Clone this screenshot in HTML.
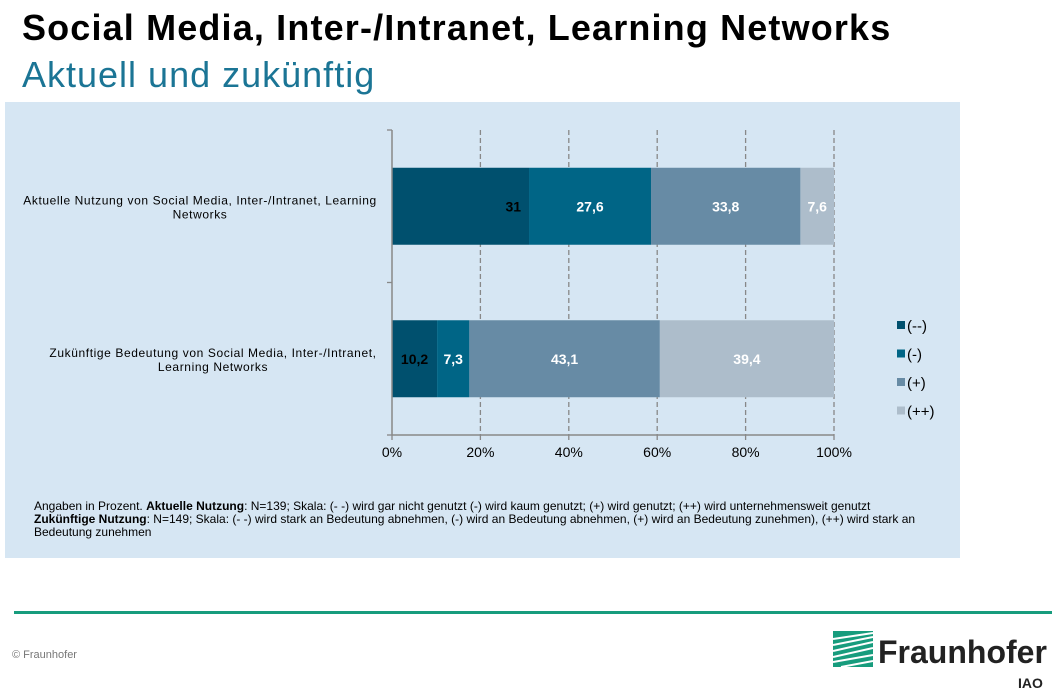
<!DOCTYPE html>
<html><head><meta charset="utf-8"><style>
body{margin:0;width:1061px;height:694px;background:#fff;font-family:"Liberation Sans","DejaVu Sans",sans-serif;position:relative;overflow:hidden}
.abs{position:absolute}
</style></head><body>
<div class="abs" style="left:22px;top:7px;font-size:36px;font-weight:bold;color:#000;letter-spacing:1.15px;white-space:nowrap">Social Media, Inter-/Intranet, Learning Networks</div>
<div class="abs" style="left:22px;top:54px;font-size:36px;color:#1b7595;letter-spacing:1px;white-space:nowrap">Aktuell und zukünftig</div>
<div class="abs" style="left:5px;top:102px;width:955px;height:456px;background:#d6e6f3"></div>
<svg class="abs" style="left:0;top:0" width="1061" height="694" id="chart"></svg>
<div class="abs" style="left:34px;top:500px;font-size:12px;line-height:13px;color:#000;width:885px">Angaben in Prozent. <b>Aktuelle Nutzung</b>: N=139; Skala: (- -) wird gar nicht genutzt (-) wird kaum genutzt; (+) wird genutzt; (++) wird unternehmensweit genutzt<br><b>Zukünftige Nutzung</b>: N=149; Skala: (- -) wird stark an Bedeutung abnehmen, (-) wird an Bedeutung abnehmen, (+) wird an Bedeutung zunehmen), (++) wird stark an Bedeutung zunehmen</div>
<div class="abs" style="left:14px;top:611px;width:1038px;height:3px;background:#179c7d"></div>
<div class="abs" style="left:12px;top:649px;font-size:11px;color:#777">© Fraunhofer</div>
<svg class="abs" style="left:833px;top:631px" width="40" height="36">
<rect width="40" height="36" fill="#179c7d"/>
<path d="M0 8 L40 2 M0 14 L40 6 M0 20 L40 11 M0 26 L40 17 M0 31 L40 24 M8 36 L40 30" stroke="#fff" stroke-width="2" fill="none"/>
</svg>
<div class="abs" style="left:878px;top:634px;font-size:32px;font-weight:bold;color:#222">Fraunhofer</div>
<div class="abs" style="left:1018px;top:675px;font-size:14px;font-weight:bold;color:#222">IAO</div>
<script>
const categories=["Aktuelle Nutzung von Social Media, Inter-/Intranet, Learning|Networks","Zukünftige Bedeutung von Social Media, Inter-/Intranet,|Learning Networks"];
const seriesNames=["(--)","(-)","(+)","(++)"];
const seriesVeryNeg=[31,10.2];
const seriesNeg=[27.6,7.3];
const seriesPos=[33.8,43.1];
const seriesVeryPos=[7.6,39.4];
const labelsVeryNeg=["31","10,2"];
const labelsNeg=["27,6","7,3"];
const labelsPos=["33,8","43,1"];
const labelsVeryPos=["7,6","39,4"];
const ticks=[0,20,40,60,80,100];
const tickLabels=["0%","20%","40%","60%","80%","100%"];
const colors=["#00506e","#006586","#678ba5","#adbdcb"];
const textColors=["#000","#fff","#fff","#fff"];
const svg=document.getElementById('chart');
const NS="http://www.w3.org/2000/svg";
const x0=392,x1=834,yTop=130,yBot=435;
const xs=v=>x0+(x1-x0)*v/100;
const catY=i=>yTop+(yBot-yTop)*(i+0.5)/categories.length;
const barH=77;
function mk(t,a){const e=document.createElementNS(NS,t);for(const k in a)e.setAttribute(k,a[k]);svg.appendChild(e);return e;}
ticks.forEach((t,i)=>{
 if(t>0){const g=mk('line',{x1:xs(t),x2:xs(t),y1:yTop,y2:yBot,stroke:'#888','stroke-dasharray':'5,3','stroke-width':1.3});
 
 }
 const tk=mk('line',{x1:xs(t),x2:xs(t),y1:yBot,y2:yBot+5,stroke:'#888','stroke-width':1.3});
 
 
 const tl=mk('text',{x:xs(t),y:yBot+22,'text-anchor':'middle','font-size':14,fill:'#000','font-family':'Liberation Sans, sans-serif'});
 tl.textContent=tickLabels[i];
 
 
});
const series=[seriesVeryNeg,seriesNeg,seriesPos,seriesVeryPos];
const labels=[labelsVeryNeg,labelsNeg,labelsPos,labelsVeryPos];
categories.forEach((c,i)=>{
 const cy=catY(i);let acc=0;
 series.forEach((s,j)=>{
  const v=s[i];
  const r=mk('rect',{x:xs(acc),y:cy-barH/2,width:xs(acc+v)-xs(acc),height:barH,fill:colors[j]});
  
  
  const tx=mk('text',{x:(xs(acc)+xs(acc+v))/2,y:cy+5,'text-anchor':'middle','font-size':14,'font-weight':'bold',fill:textColors[j],'font-family':'Liberation Sans, sans-serif'});
  if(j===0&&v>20){tx.setAttribute('x',xs(acc+v)-8);tx.setAttribute('text-anchor','end');}
  tx.textContent=labels[j][i];
  
  
  acc+=v;
 });
 const lines=c.split('|');
 lines.forEach((ln,k)=>{
  const t=mk('text',{x:i===0?200:213,y:cy-2+k*14,'text-anchor':'middle','font-size':12,'letter-spacing':0.6,fill:'#000','font-family':'Liberation Sans, sans-serif'});
  t.textContent=ln;
  
  
 });
});
const yc=(i)=>yTop+(yBot-yTop)*i/categories.length;
[0,1,2].forEach(i=>{const t=mk('line',{x1:x0-5,x2:x0,y1:yc(i),y2:yc(i),stroke:'#888','stroke-width':1.3});
 
 });
const ax=mk('line',{x1:x0,x2:x0,y1:yTop,y2:yBot,stroke:'#888','stroke-width':1.5});


const bx=mk('line',{x1:x0,x2:x1,y1:yBot,y2:yBot,stroke:'#888','stroke-width':1.5});


seriesNames.forEach((n,j)=>{
 const y=325+j*28.5;
 const r=mk('rect',{x:897,y:y-4,width:8,height:8,fill:colors[j]});
 
 
 const t=mk('text',{x:907,y:y+6,'font-size':15,fill:'#000','font-family':'Liberation Sans, sans-serif'});
 t.textContent=n;
 
 
});
</script>
</body></html>
